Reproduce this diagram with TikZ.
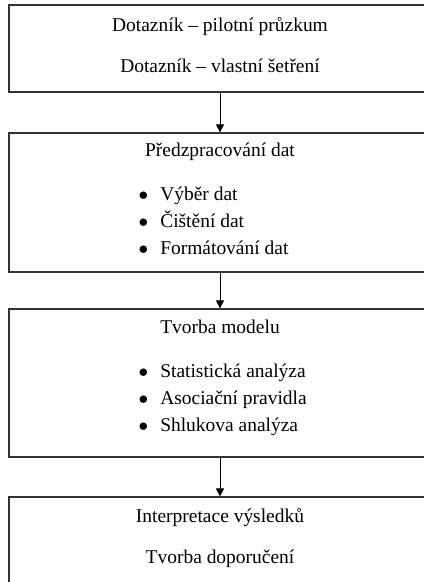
\documentclass[tikz,border=0pt]{standalone}
\usepackage{fontspec}
\setmainfont{Liberation Serif}
\usetikzlibrary{positioning, arrows.meta}

\tikzset{
  stage/.style={draw=black!80, line width=0.9pt, fill=none, minimum width=316.5pt},
  txt/.style={draw=none, fill=none, inner sep=0pt, font=\fontsize{14.6}{17}\selectfont},
  item/.style={txt, anchor=base west},
  flow/.style={-{Triangle[length=6pt,width=6pt]}, line width=0.7pt}
}
\newcommand{\bul}{\llap{$\bullet$\hspace{9pt}}}

\begin{document}
\begin{tikzpicture}[x=0.75pt, y=-0.75pt]
			\clip (0,0) rectangle (424,582);
			\useasboundingbox (0,0) rectangle (424,582);

			% boxes
			\node[stage, minimum height=65.25pt]  (survey)  at (220,48.5)  {};
			\node[stage, minimum height=104.25pt] (prep)    at (220,202.5) {};
			\node[stage, minimum height=111pt]    (model)   at (220,383)   {};
			\node[stage, minimum height=105pt]    (interp)  at (220,567)   {};

			% box 1
			\node[txt, anchor=base] (s1) at (220,31) {Dotazník – pilotní průzkum};
			\node[txt, anchor=base] (s2) at (220,72) {Dotazník – vlastní šetření};

			% box 2
			\node[txt, anchor=base] (p0) at (220,156) {Předzpracování dat};
			\node[item] (p1) at (160,200) {\bul Výběr dat};
			\node[item, below=20.5pt of p1.base west, anchor=base west] (p2) {\bul Čištění dat};
			\node[item, below=20.5pt of p2.base west, anchor=base west] (p3) {\bul Formátování dat};

			% box 3
			\node[txt, anchor=base] (m0) at (220,333) {Tvorba modelu};
			\node[item] (m1) at (160,377) {\bul Statistická analýza};
			\node[item, below=20.5pt of m1.base west, anchor=base west] (m2) {\bul Asociační pravidla};
			\node[item, below=20.5pt of m2.base west, anchor=base west] (m3) {\bul Shlukova analýza};

			% box 4
			\node[txt, anchor=base] (i1) at (220,522) {Interpretace výsledků};
			\node[txt, anchor=base] (i2) at (220,563) {Tvorba doporučení};

			\draw[flow] (survey) -- (prep);
			\draw[flow] (prep)   -- (model);
			\draw[flow] (model)  -- (interp);
		\end{tikzpicture}
\end{document}
